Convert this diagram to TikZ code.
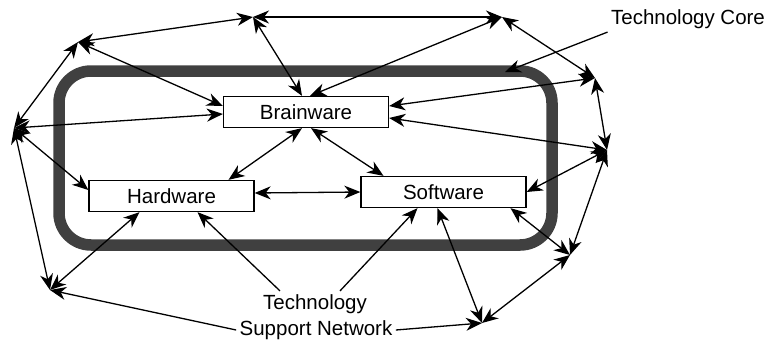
\documentclass[tikz,border=0pt]{standalone}
\usepackage{fontspec}
\setmainfont{Liberation Sans}
\usetikzlibrary{arrows.meta}

\begin{document}
\begin{tikzpicture}[x=1pt, y=-1pt,
	every node/.style={font=\fontsize{20.5}{24}\selectfont},
	part/.style={draw, line width=1.3pt, fill=white, minimum width=165pt, minimum height=31pt, inner sep=0pt},
	link/.style={line width=1.3pt, {Stealth[length=16pt, width=13pt, inset=5pt]}-{Stealth[length=16pt, width=13pt, inset=5pt]}},
	lead/.style={line width=1.3pt, -{Stealth[length=16pt, width=13pt, inset=5pt]}},
	core/.style={line width=11.5pt, draw=black!75, rounded corners=32pt}]
	\useasboundingbox (0,0) rectangle (773,343);

	% technology core
	\draw[core] (59,71) rectangle (552,245);

	\node[part] (bw) at (306,112) {Brainware};
	\node[part] (hw) at (171.5,196) {Hardware};
	\node[part] (sw) at (443.5,192) {Software};

	% support network points
	\coordinate (p1) at (14,128);
	\coordinate (p2) at (78,42);
	\coordinate (p3) at (253,17);
	\coordinate (p4) at (502,17);
	\coordinate (p5) at (595,78);
	\coordinate (p6) at (607,150);
	\coordinate (p7) at (570,255);
	\coordinate (p8) at (482,323);
	\coordinate (p9) at (50,290);
	\coordinate (tcend) at (505,72);

	\node (tc) at (688,19) {Technology Core};
	\node (tech) at (315,304) {Technology};
	\node (supp) at (316,330) {Support Network};

	% outer ring
	\draw[link] (p1) -- (p2);
	\draw[link] (p2) -- (p3);
	\draw[link] (p3) -- (p4);
	\draw[link] (p4) -- (p5);
	\draw[link] (p5) -- (p6);
	\draw[link] (p6) -- (p7);
	\draw[link] (p7) -- (p8);
	\draw[link] (p1) -- (p9);

	% ring to core
	\draw[link] (p2) -- ([yshift=6pt]bw.west);
	\draw[link] (p1) -- ([yshift=-2pt]bw.west);
	\draw[link] (p3) -- ([xshift=-4pt]bw.north);
	\draw[link] (p4) -- ([xshift=4pt]bw.north);
	\draw[link] (p5) -- ([yshift=6pt]bw.east);
	\draw[link] (p6) -- ([yshift=-6pt]bw.east);
	\draw[link] (p1) -- ([yshift=6pt]hw.west);
	\draw[link] (p9) -- ([xshift=-32pt]hw.south);
	\draw[link] (p6) -- (sw.east);
	\draw[link] (p7) -- ([xshift=67pt]sw.south);
	\draw[link] (p8) -- ([xshift=-6pt]sw.south);

	% inside the core
	\draw[link] ([xshift=-4pt]bw.south) -- ([xshift=57pt]hw.north);
	\draw[link] ([xshift=5pt]bw.south) -- ([xshift=-60pt]sw.north);
	\draw[link] ([yshift=3pt]hw.east) -- (sw.west);

	% labels
	\draw[lead] (tc.south west) -- (tcend);
	\draw[lead] ([xshift=-35pt]tech.north) -- ([xshift=26pt]hw.south);
	\draw[lead] ([xshift=25pt]tech.north) -- ([xshift=-26pt]sw.south);
	\draw[lead] (supp.east) -- (p8);
	\draw[lead] (supp.west) -- (p9);
\end{tikzpicture}
\end{document}
